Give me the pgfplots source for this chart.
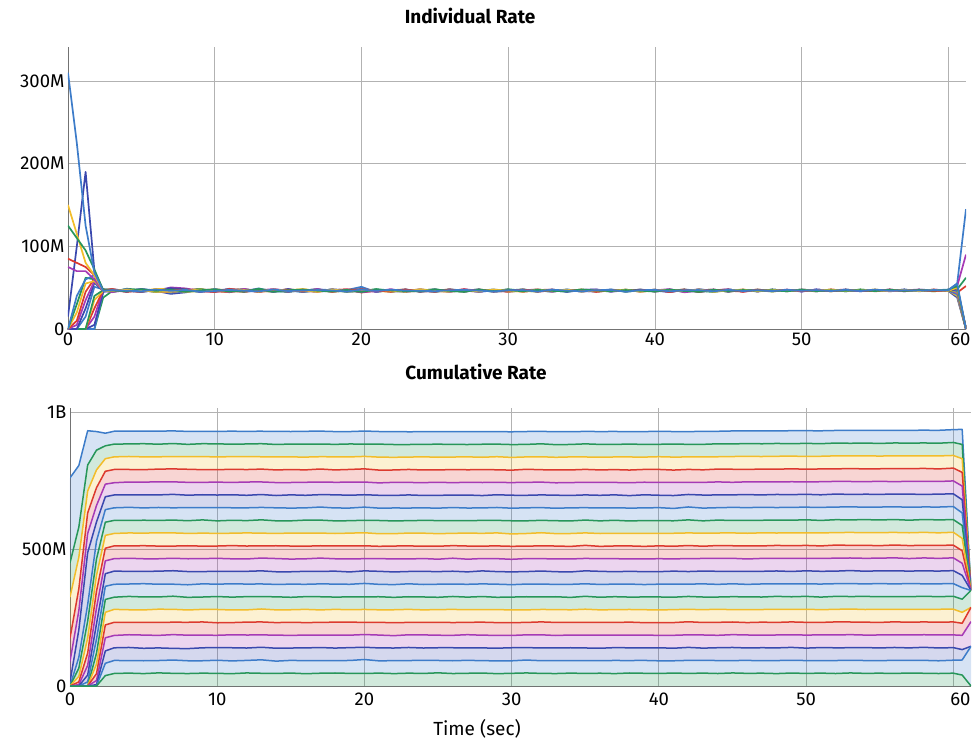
\documentclass[border=0pt]{standalone}
\usepackage{fontspec}
\setmainfont{Fira Sans}
\usepackage{pgfplots}
\usepackage{pgfplotstable}
\pgfplotsset{compat=1.18}
\definecolor{cG}{HTML}{27965A}
\definecolor{cB}{HTML}{3D7CC9}
\definecolor{cD}{HTML}{3A48AE}
\definecolor{cP}{HTML}{A63AB5}
\definecolor{cR}{HTML}{DC3A2E}
\definecolor{cY}{HTML}{F2BD2A}
\colorlet{c1}{cG}\colorlet{c2}{cB}\colorlet{c3}{cD}\colorlet{c4}{cP}\colorlet{c5}{cR}\colorlet{c6}{cY}
\colorlet{c7}{cG}\colorlet{c8}{cB}\colorlet{c9}{cD}\colorlet{c10}{cP}\colorlet{c11}{cR}\colorlet{c12}{cY}
\colorlet{c13}{cG}\colorlet{c14}{cB}\colorlet{c15}{cD}\colorlet{c16}{cP}\colorlet{c17}{cR}\colorlet{c18}{cY}
\colorlet{c19}{cG}\colorlet{c20}{cB}

% rates in millions per second
\pgfplotstableread{
t s1 s2 s3 s4 s5 s6 s7 s8 s9 s10 s11 s12 s13 s14 s15 s16 s17 s18 s19 s20
0 0 0 0 0 0 0 0 0 0 0 0 0 0 0 15 75 85 150 125 310
0.6 0 0 0 0 0 0 0 0 0 5 10 20 30 40 100 70 80 115 110 225
1.2 0 0 0 0 0 0 0 15 25 35 45 55 62 60 190 70 75 80 95 125
1.8 0 0 5 15 25 35 40 51 56 58 61 58 60 65 70 60 65 65 72 68
2.4 38 45 45 48 47 46 47 48 46 47 46 47 48 46 47 46 47 46 47 46
3 45.7 47.5 46.3 45.1 47.9 47.3 44.5 47.1 48.1 45.5 46.7 45.3 47.7 45.9 46.9 44.7 48.3 46.1 46.5 47.1
4 47.1 45.9 47.7 46.5 44.9 46.3 48.7 45.3 46.1 47.9 45.1 47.3 45.5 48.1 45.3 47.1 45.7 47.5 45.9 46.3
5 45.3 46.9 45.5 48.3 46.7 45.1 47.3 48.5 44.7 46.3 47.7 45.9 47.1 44.9 47.9 46.5 45.3 46.7 48.1 45.7
6 47.9 45.1 46.1 45.7 47.5 48.1 44.7 46.5 47.7 45.3 46.3 48.5 45.1 47.3 45.9 47.5 46.7 44.9 46.1 47.7
7 46.3 48.5 42.5 50.3 45.3 47.1 47.9 43.8 49.2 45.5 44.5 48.1 46.9 44.7 49.1 45.7 47.3 45.1 47.5 46.1
8 45.5 46.7 44.3 49.1 47.1 44.9 46.1 45.9 48.3 46.7 47.5 45.1 46.3 47.9 45.3 46.9 47.7 45.9 45.1 47.3
9 46.9 45.3 47.3 46.1 48.3 45.9 45.1 48.1 44.9 47.1 45.7 47.3 48.5 45.1 46.7 45.3 46.3 47.9 46.9 45.3
10 46.1 47.9 46.5 44.7 45.7 48.5 47.3 45.1 46.7 47.7 44.9 46.3 45.5 48.3 46.1 47.1 45.3 46.5 47.9 45.9
11 45.1 46.5 48.1 47.3 44.5 46.1 46.9 48.7 45.3 45.9 48.3 45.1 47.3 45.7 47.5 44.9 48.1 46.3 45.3 47.3
12 47.7 45.7 45.3 47.5 47.1 44.7 48.3 45.9 46.5 45.1 47.3 47.9 44.9 46.7 45.7 48.5 45.5 47.1 46.3 46.3
13 46.5 49.1 45.9 44.9 47.5 47.3 45.1 46.3 47.9 46.7 44.7 46.1 48.7 45.3 47.1 45.9 46.9 45.1 47.7 45.5
14 45.9 44.9 47.1 48.1 45.5 46.5 47.7 45.3 46.1 48.3 46.7 45.1 45.9 47.5 44.9 47.3 46.1 47.9 45.1 47.7
15 47.3 46.3 45.1 45.9 48.1 45.7 45.5 47.9 45.3 46.3 47.7 47.1 44.9 46.5 48.3 45.1 47.3 46.1 46.9 45.9
16 44.9 47.5 46.7 47.1 45.3 48.3 46.5 45.1 47.3 45.7 46.1 48.1 47.1 44.7 45.9 47.5 45.3 46.7 47.7 46.5
17 46.7 45.9 47.9 45.3 46.5 45.5 48.1 46.9 45.7 48.5 45.1 46.3 47.3 47.7 45.3 46.1 47.5 44.9 46.3 47.1
18 47.5 45.3 45.7 47.7 46.9 46.7 44.9 47.5 47.1 45.3 46.9 45.3 46.1 47.1 48.1 45.7 45.1 47.9 45.5 46.7
19 46.1 47.1 46.9 45.5 47.9 45.1 46.7 46.1 45.1 47.3 47.9 46.5 45.3 46.3 46.7 47.7 46.5 45.7 47.3 45.3
20 45.7 51.0 44.7 46.5 44.1 47.5 46.3 48.7 45.9 44.5 47.1 47.5 45.7 47.9 45.3 46.3 48.1 45.5 44.9 47.7
21 47.1 44.7 47.3 46.9 46.3 45.9 47.7 45.3 47.5 46.1 45.3 45.9 48.3 45.1 46.9 45.3 46.7 47.3 47.5 46.1
22 45.3 47.3 46.1 45.1 47.5 47.1 45.3 46.5 46.3 47.9 46.7 45.1 46.5 47.3 45.7 47.9 45.1 46.3 46.7 47.5
23 46.9 46.1 47.7 46.3 45.1 47.7 46.1 47.3 44.9 45.7 47.7 46.9 45.3 46.1 47.9 45.5 47.5 45.1 45.9 46.5
24 45.9 47.7 45.1 47.9 46.1 45.3 47.1 45.5 47.9 46.9 45.1 47.5 46.7 45.7 45.3 46.9 46.1 48.1 45.5 46.3
25 48.1 45.1 46.5 45.7 47.3 46.3 44.9 47.7 46.1 45.3 47.3 45.9 47.9 45.3 46.7 47.7 45.1 46.3 47.7 45.7
26 45.5 46.7 47.5 45.3 46.7 47.9 47.3 45.1 47.1 47.5 45.9 44.9 46.1 48.1 45.5 45.3 47.9 45.7 46.1 46.9
27 46.5 47.3 45.5 48.1 45.1 46.1 45.9 46.9 45.3 46.3 48.1 47.3 45.1 46.3 47.5 46.5 45.7 47.1 45.1 47.3
28 47.3 45.1 46.7 46.3 47.7 45.5 48.1 46.1 47.5 45.1 45.5 46.5 47.3 45.5 45.1 47.7 46.9 45.3 47.5 46.3
29 45.1 46.9 46.1 47.1 46.3 47.3 45.1 47.9 45.9 47.3 46.5 47.5 45.7 47.1 46.5 45.1 46.1 47.7 45.9 45.5
30 46.3 45.7 47.7 44.9 46.9 46.5 46.7 45.3 46.7 45.9 47.5 45.1 48.1 45.9 47.3 46.3 45.3 46.5 46.9 46.7
31 47.7 47.1 45.3 46.7 45.3 45.9 47.9 46.3 45.5 47.7 45.3 46.1 46.3 47.5 45.7 47.3 47.7 45.1 45.7 47.1
32 46.1 46.3 46.7 47.9 47.1 45.3 45.7 47.1 47.7 45.1 46.7 47.9 45.3 46.5 46.3 46.7 45.3 47.3 47.3 45.3
33 45.5 47.5 45.9 45.5 47.7 47.1 46.7 45.1 46.3 46.7 47.1 45.3 47.1 45.5 47.7 45.3 46.7 46.3 46.1 47.5
34 47.1 45.3 47.3 46.5 45.7 46.3 45.3 47.7 45.3 47.3 45.9 47.1 45.9 47.9 45.1 47.1 46.1 47.5 45.5 46.5
35 45.9 46.7 46.3 47.3 46.5 47.7 47.1 45.7 47.3 45.3 47.7 45.5 46.9 45.1 46.7 45.9 47.3 45.3 47.9 45.5
36 46.7 46.1 45.1 47.5 47.3 45.3 46.1 46.7 47.9 46.1 45.1 46.9 46.1 47.3 46.1 47.5 45.1 46.7 46.5 46.9
37 45.3 47.9 46.9 45.9 45.9 46.9 47.3 45.9 45.3 47.5 46.5 46.3 47.5 45.7 47.1 45.3 46.9 46.1 45.9 47.3
38 47.5 45.5 46.5 46.3 47.5 46.1 45.3 47.5 46.5 45.5 47.3 45.7 45.3 47.1 45.5 47.1 46.3 47.7 47.1 45.1
39 46.5 46.9 45.7 47.1 45.1 47.3 46.5 45.3 47.1 46.5 45.9 47.7 46.5 46.1 47.9 45.9 46.7 45.1 46.3 46.9
40 45.7 46.3 47.5 45.3 46.9 45.9 47.5 46.7 45.7 47.3 46.9 45.3 46.7 47.5 45.3 46.7 47.5 46.5 45.3 47.3
41 47.4 44.7 45.9 47.1 46.5 47.4 45.3 47.4 47.7 44.7 46.2 47.4 45.6 45.0 47.1 48.3 44.7 47.4 47.7 45.6
42 45.9 47.7 47.4 45.9 47.7 45.3 47.1 45.0 45.9 47.4 47.7 45.9 47.7 47.1 45.6 44.4 47.1 45.6 45.9 46.8
43 47.1 46.5 44.7 48.0 45.6 46.8 46.2 48.0 46.8 45.9 44.7 47.7 45.0 46.5 47.7 46.2 45.9 47.7 45.3 47.1
44 45.6 47.4 46.8 45.3 47.4 47.7 44.7 46.2 47.7 46.8 47.4 45.6 47.1 45.3 46.5 47.7 46.8 45.0 47.4 45.6
45 47.7 45.3 47.7 46.8 46.2 45.0 47.4 47.1 45.0 48.0 45.9 46.8 45.6 47.7 45.9 45.6 47.7 46.5 45.9 47.4
46 46.2 47.1 45.6 47.4 45.3 47.1 46.8 45.6 47.4 45.3 47.7 46.2 47.4 46.2 47.4 46.8 45.0 47.7 47.1 45.9
47 46.8 45.9 47.1 45.6 47.7 46.2 45.6 47.7 46.2 47.1 45.6 47.7 45.9 47.4 45.3 47.4 47.1 45.6 46.5 46.8
48 45.3 47.7 46.2 47.1 45.9 47.4 47.7 45.9 46.8 45.9 47.4 45.3 47.4 45.6 47.7 45.9 46.2 47.4 46.8 45.9
49 47.4 46.2 47.4 45.9 47.1 45.6 46.2 46.8 45.6 47.7 46.2 47.1 46.2 47.1 46.2 47.1 47.4 45.9 45.6 47.4
50 45.9 47.1 45.3 47.7 46.5 47.7 47.1 45.6 47.7 45.6 47.1 45.9 47.7 45.9 47.1 45.6 45.9 47.1 47.4 46.2
51 47.1 45.6 47.7 46.2 45.6 46.5 45.9 47.7 46.5 46.8 45.9 47.4 45.6 47.7 45.9 47.7 46.8 46.2 45.9 47.1
52 45.6 47.4 46.5 46.8 47.7 45.9 47.4 46.2 45.9 47.4 47.7 45.6 47.1 46.2 47.4 46.2 45.6 47.7 46.8 45.9
53 47.7 46.2 45.9 47.7 46.2 47.4 45.6 47.1 47.7 45.9 46.2 47.1 45.9 47.4 45.6 47.1 47.4 45.9 46.2 47.4
54 46.2 46.8 47.4 45.6 47.1 46.2 47.7 45.9 46.2 47.1 47.4 46.2 47.7 45.6 47.1 45.9 46.5 47.4 47.1 45.9
55 46.8 45.9 46.2 47.4 45.9 47.7 46.5 47.4 46.8 46.2 45.6 47.7 46.2 47.1 46.5 47.4 45.9 46.5 45.9 47.7
56 45.9 47.7 47.1 46.2 47.4 45.6 46.8 46.2 47.4 47.7 46.8 45.9 47.1 46.5 46.2 45.6 47.7 46.2 47.4 46.2
57 47.4 46.2 45.6 47.1 46.5 47.1 46.2 47.7 45.9 45.6 47.4 46.8 45.9 47.4 47.7 46.8 46.2 47.1 46.2 46.8
58 46.5 47.1 47.7 45.9 46.8 46.2 47.4 45.6 47.1 47.4 45.9 47.4 46.8 45.9 45.9 47.7 47.1 45.9 47.1 46.5
59 45.6 46.5 46.8 47.7 46.2 47.4 45.9 47.1 46.5 46.2 47.7 45.6 47.4 46.8 47.1 46.2 45.9 47.4 46.5 47.1
60 46.8 47.4 45.9 46.5 47.4 46.5 47.1 46.2 47.4 46.8 46.2 47.1 46.2 47.7 46.5 47.1 46.8 46.2 47.4 46.8
60.6 40 55 38 52 44 40 48 42 45 44 46 45 47 46 48 50 50 50 52 55
61.2 0 145 0 90 52 0 62 0 0 0 0 0 0 0 0 0 0 0 0 0
}\data

\pgfplotsset{
  myax/.style={
    scale only axis, xmin=0, xmax=61.2, ymin=0,
    axis x line=bottom, axis y line=left,
    axis line style={-, draw=black!55, line width=0.9pt},
    grid=major, major grid style={draw=black!30, line width=0.8pt},
    major tick length=0pt,
    xtick={0,10,...,60},
    xticklabels={0,10,20,30,40,50,\hspace*{24pt}60},
    tick label style={font=\fontsize{18.5}{22}\selectfont},
    no markers, clip=true,
  },
  botgeom/.style={at={(70pt,-686pt)}, anchor=south west, width=901pt, height=278pt, ymax=1015},
}

\begin{document}
\begin{tikzpicture}
\path[use as bounding box] (0pt,0pt) rectangle (975pt,-747pt);

% Top: individual rate
\begin{axis}[myax, at={(68pt,-329pt)}, anchor=south west, width=898pt, height=282pt,
  ymax=341, ytick={0,100,200,300}, yticklabels={0,100M,200M,300M}]
\pgfplotsinvokeforeach{1,...,20}{\addplot[c#1, line width=1.7pt, line join=round] table[x=t,y=s#1]{\data};}
\end{axis}

% Bottom: cumulative rate (fills)
\begin{axis}[myax, botgeom, ytick={0,500,1000}, yticklabels={0,500M,1B}, stack plots=y,
  xticklabels={0,10,20,30,40,50,\hspace*{14pt}60},
  xticklabel style={yshift=-3pt}]
\pgfplotsinvokeforeach{1,...,20}{\addplot[draw=none, fill=c#1, fill opacity=0.21] table[x=t,y=s#1]{\data} \closedcycle;}
\end{axis}
% Bottom: cumulative rate (lines)
\begin{axis}[myax, botgeom, hide axis, stack plots=y]
\pgfplotsinvokeforeach{1,...,20}{\addplot[c#1, line width=1.5pt, line join=round] table[x=t,y=s#1]{\data};}
\end{axis}

\node[font=\fontsize{19}{22}\selectfont\bfseries] at (470pt,-16pt) {Individual Rate};
\node[font=\fontsize{19}{22}\selectfont\bfseries] at (476pt,-372pt) {Cumulative Rate};
\node[font=\fontsize{19}{22}\selectfont] at (477pt,-729pt) {Time (sec)};
\end{tikzpicture}
\end{document}
